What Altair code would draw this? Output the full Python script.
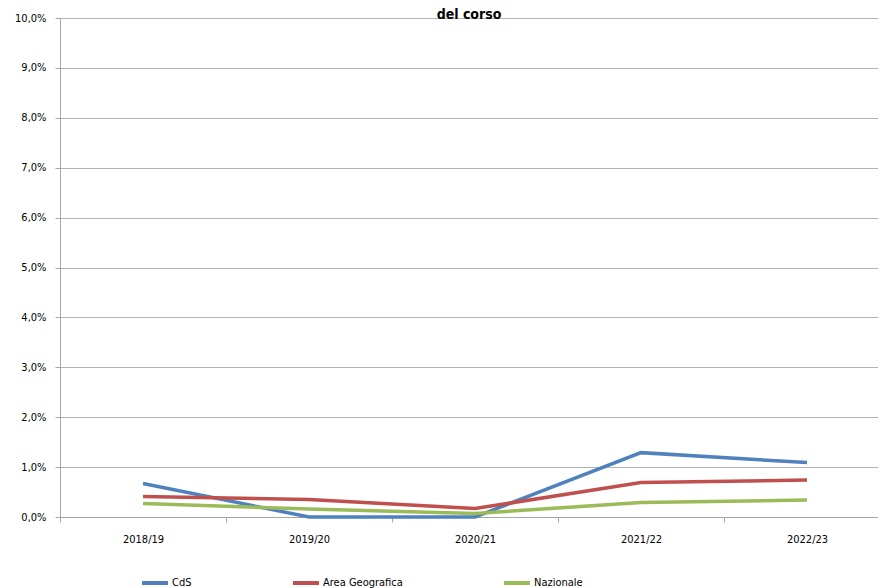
import altair as alt
import pandas as pd

years = ["2018/19", "2019/20", "2020/21", "2021/22", "2022/23"]
cds = [0.0067, 0.0, 0.0, 0.0129, 0.0109]
area = [0.0041, 0.0035, 0.0017, 0.0069, 0.0074]
naz = [0.0027, 0.0016, 0.0007, 0.0029, 0.0034]
series = ["CdS", "Area Geografica", "Nazionale"]
colors = ["#4F81BD", "#C0504D", "#9BBB59"]

rows = []
for name, vals in zip(series, [cds, area, naz]):
    for i, (y, v) in enumerate(zip(years, vals)):
        rows.append({"anno": y, "pos": i + 0.5, "serie": name, "valore": v})
df = pd.DataFrame(rows)

FONT = "DejaVu Sans Condensed, Liberation Sans, sans-serif"
W = 818
XR = 830
n = len(years)
year_expr = "[" + ",".join("'%s'" % y for y in years) + "]"

chart = alt.Chart(df).mark_line(strokeWidth=3.5).encode(
    x=alt.X("pos:Q", title=None,
            scale=alt.Scale(domain=[0, n], range=[0, XR], nice=False, zero=False),
            axis=alt.Axis(values=list(range(n + 1)),
                          labelExpr="datum.value < %d ? %s[datum.value] : ''" % (n, year_expr),
                          labelOffset=XR / n / 2, labelAngle=0, labelFlush=False,
                          labelOverlap=False,
                          tickSize=5, tickColor="#a6a6a6", domainColor="#a6a6a6",
                          labelFontSize=11, labelColor="#000", labelPadding=11,
                          grid=False)),
    y=alt.Y("valore:Q", title=None,
            scale=alt.Scale(domain=[0, 0.10], nice=False),
            axis=alt.Axis(values=[i / 100 for i in range(11)],
                          labelExpr="replace(format(datum.value, '.1%'), '.', ',')",
                          tickSize=5, tickColor="#a6a6a6", domainColor="#a6a6a6",
                          gridColor="#b3b3b3", labelFontSize=11, labelColor="#000",
                          labelPadding=9)),
    color=alt.Color("serie:N", sort=series, title=None,
                    scale=alt.Scale(domain=series, range=colors),
                    legend=alt.Legend(orient="none", direction="horizontal",
                                      legendX=80, legendY=550,
                                      symbolType="stroke", symbolSize=676,
                                      symbolStrokeWidth=4, labelFontSize=11,
                                      labelColor="#000", columnPadding=93,
                                      labelOffset=2)),
).properties(
    width=W, height=499,
    title=alt.TitleParams("del corso", fontSize=14, fontWeight="bold",
                          font=FONT, anchor="middle", offset=-10, color="#000"),
    autosize=alt.AutoSizeParams(type="none"),
    padding={"left": 52, "top": 10, "right": 0, "bottom": 79},
).configure_axis(labelFont=FONT).configure_legend(labelFont=FONT).configure_view(stroke=None)

chart.save("out.html", embed_options={"renderer": "svg", "actions": False})
